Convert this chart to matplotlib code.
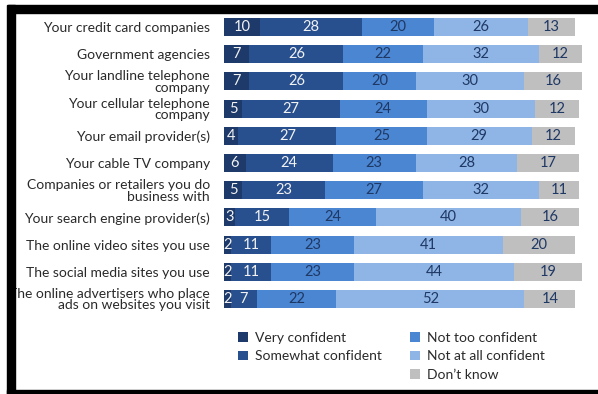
import matplotlib.pyplot as plt
from matplotlib.patches import Rectangle

plt.rcParams['font.family'] = ['Lato', 'DejaVu Sans']

# Categorías (de arriba hacia abajo)
categorias = [
    "Your credit card companies",
    "Government agencies",
    "Your landline telephone\ncompany",
    "Your cellular telephone\ncompany",
    "Your email provider(s)",
    "Your cable TV company",
    "Companies or retailers you do\nbusiness with",
    "Your search engine provider(s)",
    "The online video sites you use",
    "The social media sites you use",
    "The online advertisers who place\nads on websites you visit",
]

series = ["Very confident", "Somewhat confident", "Not too confident",
          "Not at all confident", "Don\u2019t know"]

muy_seguro = [10, 7, 7, 5, 4, 6, 5, 3, 2, 2, 2]
algo_seguro = [28, 26, 26, 27, 27, 24, 23, 15, 11, 11, 7]
poco_seguro = [20, 22, 20, 24, 25, 23, 27, 24, 23, 23, 22]
nada_seguro = [26, 32, 30, 30, 29, 28, 32, 40, 41, 44, 52]
no_sabe = [13, 12, 16, 12, 12, 17, 11, 16, 20, 19, 14]

valores = [muy_seguro, algo_seguro, poco_seguro, nada_seguro, no_sabe]
colores = ["#1d3a6a", "#28508f", "#4a86d2", "#8fb5e6", "#bfbfbf"]
color_texto = ["#f2f2f2", "#f2f2f2", "#1f3864", "#1f3864", "#1f3864"]

fig = plt.figure(figsize=(5.98, 3.94), dpi=100)
ax = fig.add_axes([0.3746, 0.2066, 0.6054, 0.7594])

y = list(range(len(categorias)))
izquierda = [0] * len(categorias)
barras = []
for vals, col, tcol, nombre in zip(valores, colores, color_texto, series):
    b = ax.barh(y, vals, left=izquierda, height=0.66, color=col, label=nombre)
    barras.append(b)
    for yi, v, l in zip(y, vals, izquierda):
        ax.text(l + v / 2, yi, str(v), ha="center", va="center",
                fontsize=10.5, color=tcol)
    izquierda = [a + b_ for a, b_ in zip(izquierda, vals)]

ax.set_xlim(0, 100)
ax.set_ylim(len(categorias) - 0.5, -0.5)
ax.set_yticks(y)
ax.set_yticklabels(categorias, fontsize=10, color="#2a2a2a", linespacing=0.95)
ax.tick_params(axis="y", length=0, pad=10)
ax.set_xticks([])
for s in ax.spines.values():
    s.set_visible(False)

# Leyenda en dos columnas (2 + 3 elementos)
opciones = dict(loc="upper left", frameon=False, fontsize=10,
                handlelength=0.7, handleheight=0.7, handletextpad=0.5,
                labelspacing=0.47, borderaxespad=0, borderpad=0,
                labelcolor="#2a2a2a")
ley1 = fig.legend(barras[:2], series[:2], bbox_to_anchor=(0.398, 0.158), **opciones)
ley2 = fig.legend(barras[2:], series[2:], bbox_to_anchor=(0.686, 0.158), **opciones)

# Marco negro (arriba, izquierda, abajo)
fig.patches.append(Rectangle((0.0134, 0.967), 0.99, 0.020, transform=fig.transFigure,
                             color="black", figure=fig))
fig.patches.append(Rectangle((0.0117, 0.0), 0.0134, 0.987, transform=fig.transFigure,
                             color="black", figure=fig))
fig.patches.append(Rectangle((0.0117, 0.0), 0.99, 0.010, transform=fig.transFigure,
                             color="black", figure=fig))

fig.savefig("out.png", dpi=100)
